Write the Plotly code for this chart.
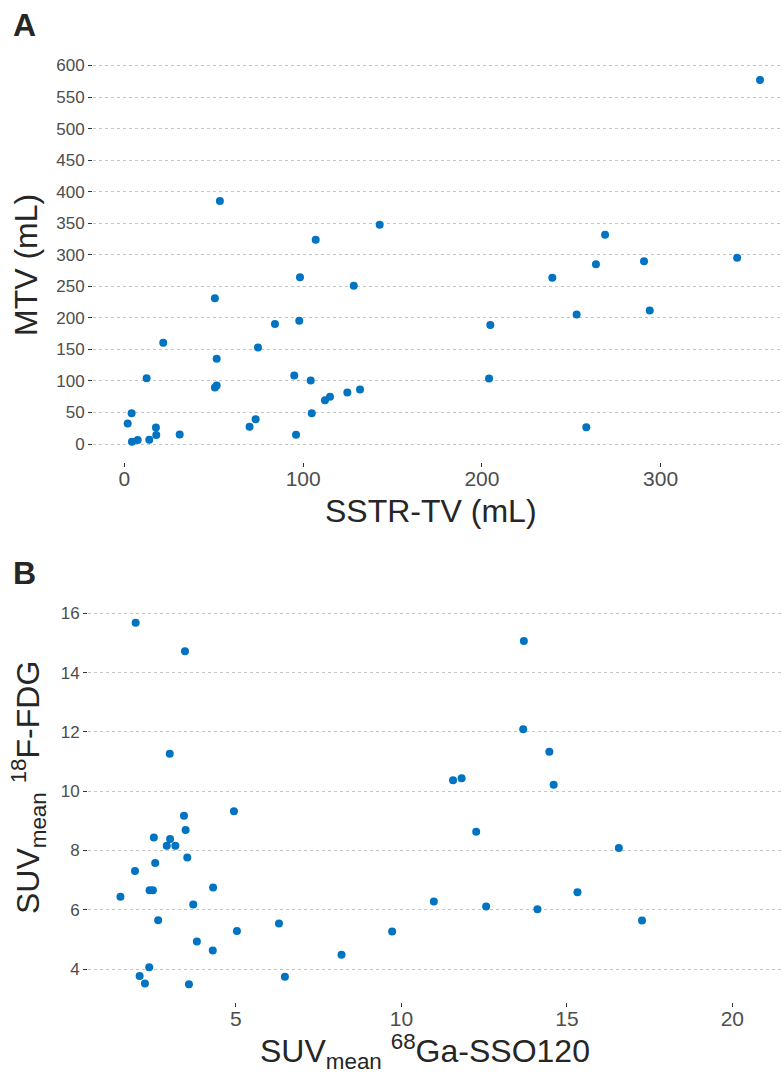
import plotly.graph_objects as go

# Panel A data: SSTR-TV (mL) vs MTV (mL)
sstr_tv = [53.4, 142.8, 107.0, 98.2, 128.3, 50.6, 84.2, 97.8, 21.7, 74.7, 51.6, 12.4,
           95.0, 104.2, 50.6, 51.6, 124.7, 131.8, 112.2, 115.0, 4.0, 104.8, 1.8, 73.4,
           70.0, 17.6, 17.8, 30.9, 96.0, 4.2, 7.4, 13.9, 355.6, 268.9, 263.8, 290.7,
           342.8, 239.4, 253.0, 293.9, 204.7, 204.0, 258.4]
mtv = [385.3, 347.4, 323.7, 264.3, 251.0, 231.2, 190.1, 195.3, 160.6, 153.2, 135.3, 104.2,
       108.5, 100.6, 89.5, 92.7, 81.6, 86.4, 69.5, 74.8, 49.0, 49.0, 32.7, 39.5,
       27.5, 26.4, 14.2, 15.3, 14.8, 3.8, 6.3, 6.9, 577.0, 331.6, 284.8, 289.6,
       295.3, 263.7, 205.3, 211.6, 188.5, 103.7, 26.8]

# Panel B data: SUVmean 68Ga-SSO120 vs SUVmean 18F-FDG
suv_ga = [1.97, 3.46, 3.00, 4.94, 3.43, 3.48, 2.52, 3.01, 2.91, 3.17, 3.53, 2.56,
          1.95, 2.39, 2.49, 4.31, 1.51, 3.71, 2.65, 5.03, 6.30, 9.72, 10.98, 3.82,
          4.30, 8.19, 2.38, 2.09, 2.25, 3.58, 6.48, 12.56, 14.11, 15.32, 17.27,
          13.70, 13.68, 14.47, 11.56, 11.82, 14.60, 12.26, 16.57]
suv_fdg = [15.68, 14.72, 11.26, 9.32, 9.17, 8.69, 8.44, 8.39, 8.16, 8.16, 7.76, 7.58,
           7.31, 6.66, 6.66, 6.75, 6.44, 6.18, 5.65, 5.28, 5.54, 5.27, 6.28, 4.93,
           4.63, 4.48, 4.06, 3.77, 3.51, 3.49, 3.74, 6.11, 6.02, 6.59, 5.64,
           15.07, 12.09, 11.33, 10.37, 10.44, 10.22, 8.63, 8.08]

W, H = 782, 1073
FONT = "Liberation Sans, Arial, Helvetica, sans-serif"
BLUE = "#0073C2"
TICK_COL = "#4D4D4D"
TITLE_COL = "#262626"

def px_x(p):
    return p / W

def px_y(p):
    return 1 - p / H

fig = go.Figure()
fig.add_trace(go.Scatter(x=sstr_tv, y=mtv, mode="markers",
                         marker=dict(color=BLUE, size=8, line=dict(width=0)),
                         xaxis="x", yaxis="y", showlegend=False))
fig.add_trace(go.Scatter(x=suv_ga, y=suv_fdg, mode="markers",
                         marker=dict(color=BLUE, size=8, line=dict(width=0)),
                         xaxis="x2", yaxis="y2", showlegend=False))

xcommon = dict(showgrid=False, zeroline=False, showline=False, ticks="outside",
               ticklen=4, tickwidth=1, tickcolor="#333333", ticklabelstandoff=-6,
               tickfont=dict(family=FONT, size=21, color=TICK_COL))
ycommon = dict(showgrid=True, gridcolor="#C4C4C4", gridwidth=1, griddash="3px,3px",
               zeroline=False, showline=False, ticks="outside", ticklen=4,
               tickwidth=1, tickcolor="#333333",
               tickfont=dict(family=FONT, size=17, color=TICK_COL))

fig.update_layout(
    width=W, height=H, autosize=False,
    margin=dict(l=0, r=0, t=0, b=0),
    paper_bgcolor="white", plot_bgcolor="white",
    font=dict(family=FONT),
    xaxis=dict(domain=[px_x(93), 1], range=[-17.6, 367.9],
               tickvals=[0, 100, 200, 300], anchor="y", **xcommon),
    yaxis=dict(domain=[px_y(460), px_y(57)], range=[-28.9, 607.4],
               tickvals=list(range(0, 601, 50)), anchor="x", **ycommon),
    xaxis2=dict(domain=[px_x(88), 1], range=[0.53, 21.5],
                tickvals=[5, 10, 15, 20], anchor="y2", **xcommon),
    yaxis2=dict(domain=[px_y(1002), px_y(603)], range=[2.88, 16.29],
                tickvals=[4, 6, 8, 10, 12, 14, 16], anchor="x2", **ycommon),
)

annots = [
    dict(text="<b>A</b>", x=px_x(11), y=px_y(21), xanchor="left", yanchor="middle",
         font=dict(size=32, color="#262626")),
    dict(text="<b>B</b>", x=px_x(11), y=px_y(571), xanchor="left", yanchor="middle",
         font=dict(size=32, color="#262626")),
    dict(text="MTV (mL)", x=px_x(26), y=px_y(262), textangle=-90,
         xanchor="center", yanchor="middle", font=dict(size=32, color=TITLE_COL)),
    dict(text="SSTR-TV (mL)", x=px_x(431), y=px_y(509), xanchor="center",
         yanchor="middle", font=dict(size=32, color=TITLE_COL)),
    dict(text="SUV<sub>mean</sub> <sup>18</sup>F-FDG", x=px_x(28), y=px_y(787),
         textangle=-90, xanchor="center", yanchor="middle",
         font=dict(size=32, color=TITLE_COL)),
    dict(text="SUV<sub>mean</sub> <sup>68</sup>Ga-SSO120", x=px_x(425), y=px_y(1051),
         xanchor="center", yanchor="middle", font=dict(size=32, color=TITLE_COL)),
]
for a in annots:
    a.update(xref="paper", yref="paper", showarrow=False)
    a["font"]["family"] = FONT
fig.update_layout(annotations=annots)

fig.write_html("out.html",
               config={"displayModeBar": False},
               post_script="document.body.style.margin='0';"
                           "document.body.style.overflow='hidden';")
